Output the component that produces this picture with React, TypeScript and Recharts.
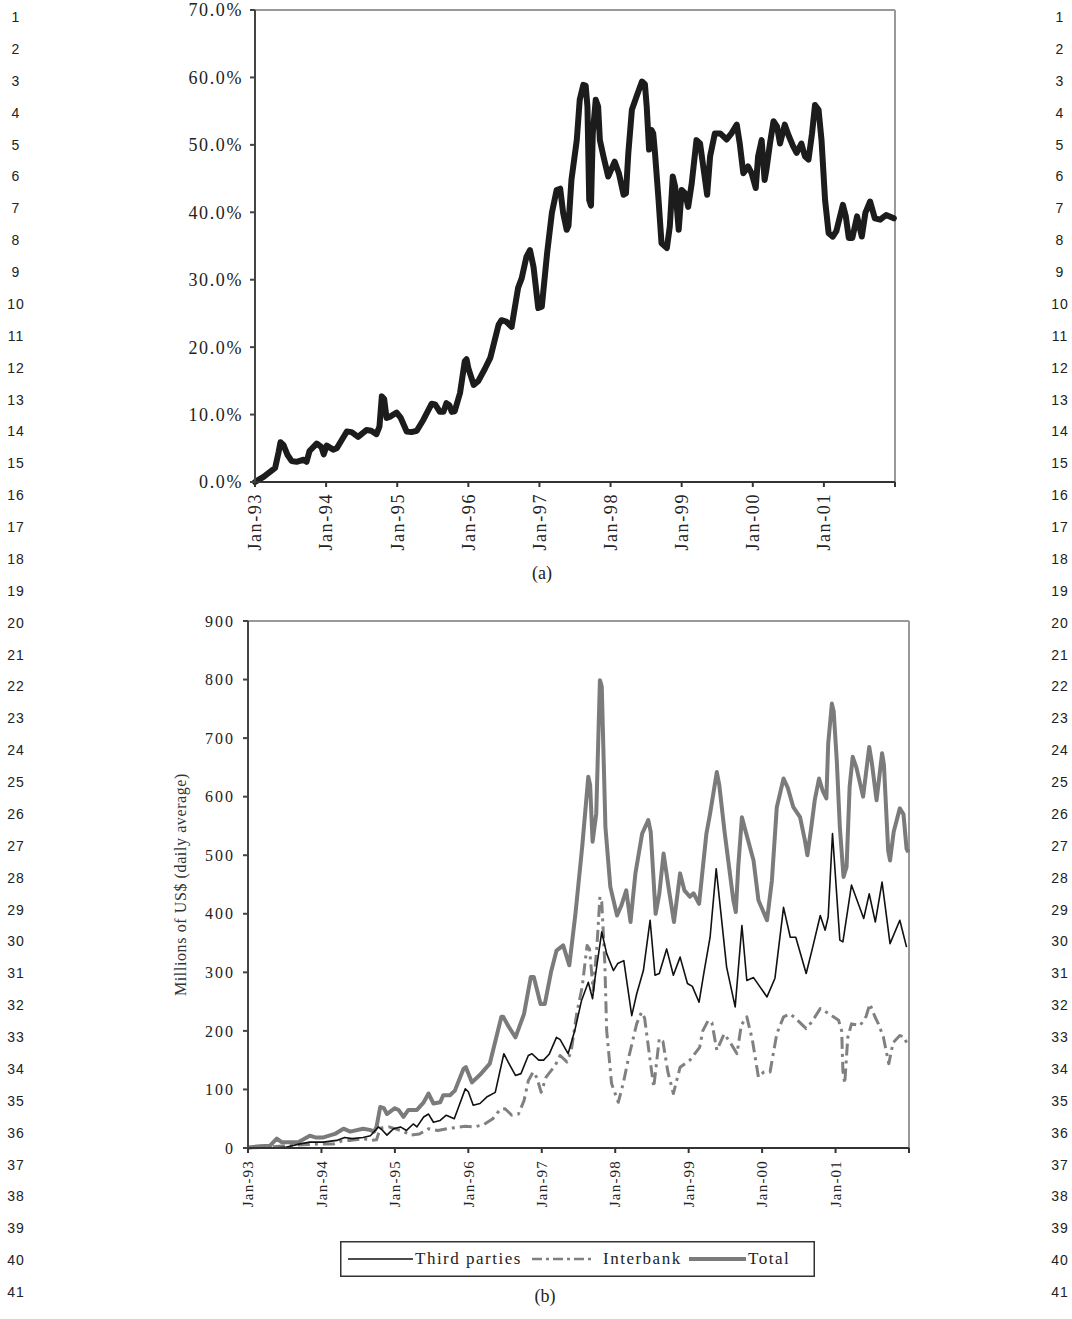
import React from "react";
import { LineChart, Line, XAxis, YAxis, ReferenceLine } from "recharts";

const SERIF = "'Liberation Serif', 'Times New Roman', serif";
const SANS = "'Liberation Sans', Arial, sans-serif";

// x values are months counted from Jan-93
const monthTicks = [0, 12, 24, 36, 48, 60, 72, 84, 96, 108];
const shareTicks = [0, 10, 20, 30, 40, 50, 60, 70];
const volumeTicks = [0, 100, 200, 300, 400, 500, 600, 700, 800, 900];

// (a) share, in percent
const shareMonths = [
  0, 1.5, 3.4, 4.0, 4.3, 4.8, 5.5, 6.2, 7.0, 8.2, 8.7, 9.2, 10.4, 11.2, 11.6, 12.1, 13.2, 13.8,
  15.5, 16.3, 17.4, 18.8, 19.6, 20.5, 21.0, 21.4, 21.8, 22.2, 22.8, 23.9, 24.6, 25.6, 26.4, 27.3,
  28.4, 29.8, 30.4, 31.2, 31.8, 32.3, 32.8, 33.2, 33.7, 34.6, 35.4, 35.7, 36.0, 36.9, 37.7, 38.8,
  39.7, 41.1, 41.6, 42.4, 43.3, 44.4, 45.0, 45.8, 46.4, 47.0, 47.8, 48.4, 49.3, 50.1, 50.9, 51.5,
  52.0, 52.6, 52.9, 53.4, 54.3, 54.8, 55.4, 55.8, 56.1, 56.4, 56.7, 57.0, 57.5, 57.9, 58.2, 58.8,
  59.6, 60.1, 60.7, 61.4, 62.2, 62.6, 63.0, 63.6, 64.4, 65.3, 65.8, 66.1, 66.5, 66.9, 67.2, 67.5,
  68.1, 68.6, 69.5, 70.0, 70.5, 70.9, 71.5, 72.0, 72.6, 73.1, 73.7, 74.5, 75.1, 75.8, 76.3, 76.8,
  77.6, 78.5, 79.6, 80.4, 81.3, 81.8, 82.4, 83.2, 83.8, 84.5, 84.9, 85.5, 86.0, 86.3, 86.9, 87.5,
  88.1, 88.6, 89.4, 90.0, 90.8, 91.4, 92.2, 92.8, 93.4, 94.0, 94.5, 95.1, 95.6, 96.2, 96.8, 97.5,
  98.1, 99.2, 99.7, 100.2, 100.8, 101.6, 102.4, 103.0, 103.8, 104.6, 105.5, 106.5, 107.8,
];
const sharePct = [
  0, 0.8, 2.1, 4.5, 5.9, 5.5, 4.0, 3.1, 3.0, 3.3, 3.0, 4.6, 5.7, 5.2, 4.1, 5.4, 4.8, 5.0,
  7.5, 7.4, 6.7, 7.7, 7.6, 7.1, 8.2, 12.7, 12.3, 9.5, 9.7, 10.3, 9.5, 7.5, 7.4, 7.6,
  9.2, 11.6, 11.5, 10.4, 10.4, 11.7, 11.4, 10.4, 10.5, 13.2, 17.9, 18.2, 16.9, 14.4, 15.0, 16.8,
  18.4, 23.3, 24.0, 23.8, 23.0, 28.8, 30.2, 33.4, 34.4, 31.9, 25.8, 26.0, 34.0, 39.9, 43.3, 43.5,
  39.9, 37.4, 38.0, 44.8, 50.7, 56.7, 58.9, 58.8, 55.7, 41.8, 41.0, 51.7, 56.7, 55.7, 50.7, 48.3,
  45.3, 46.3, 47.5, 45.8, 42.6, 42.8, 48.8, 55.2, 57.2, 59.4, 59.0, 55.7, 49.3, 52.2, 51.7, 48.8,
  41.8, 35.4, 34.7, 37.9, 45.3, 43.8, 37.4, 43.3, 42.8, 40.8, 44.3, 50.7, 50.2, 45.8, 42.6, 48.3,
  51.7, 51.7, 50.8, 51.7, 53.0, 50.2, 45.8, 46.8, 45.8, 43.6, 48.3, 50.7, 44.8, 46.3, 50.2, 53.5,
  52.7, 50.2, 53.0, 51.5, 49.8, 48.8, 50.2, 48.3, 47.8, 51.7, 55.9, 55.2, 50.7, 41.8, 36.9, 36.4,
  37.2, 41.1, 39.4, 36.2, 36.2, 39.4, 36.4, 39.9, 41.6, 39.1, 38.9, 39.6, 39.1,
];

// (b) millions of US$, daily average
const thirdMonths = [
  0, 4, 6, 8.5, 10.1, 12.3, 14.5, 15.8, 17.0, 18.8, 20.0, 21.3, 22.0, 22.7, 23.8, 24.9, 25.9, 27.0,
  27.6, 28.7, 29.5, 30.3, 31.4, 32.4, 33.7, 34.2, 35.5, 36.0, 36.8, 37.9, 39.0, 40.4, 41.8, 42.6,
  43.7, 44.6, 45.8, 46.4, 47.5, 48.3, 49.2, 50.4, 51.0, 52.3, 53.4, 54.5, 55.6, 56.3, 56.7, 57.8,
  58.6, 59.7, 60.4, 61.4, 62.7, 63.5, 64.6, 65.7, 66.5, 67.2, 68.4, 69.5, 70.6, 71.8, 72.6, 73.7,
  74.5, 75.5, 76.5, 78.2, 79.6, 80.7, 81.5, 82.6, 84.8, 86.1, 87.5, 88.6, 89.5, 91.2, 92.2, 93.5,
  94.3, 94.8, 95.5, 96.7, 97.2, 98.6, 100.6, 101.5, 102.5, 103.6, 104.9, 106.5, 107.6,
];
const thirdValues = [
  0, 0, 1, 7, 10, 10, 13, 18, 16, 18, 21, 36, 30, 22, 33, 36, 30, 41,
  36, 53, 58, 44, 47, 56, 50, 64, 101, 96, 73, 76, 87, 95, 161, 145,
  124, 127, 158, 161, 150, 150, 160, 189, 185, 161, 201, 252, 283, 255, 290, 369,
  332, 303, 315, 320, 226, 263, 303, 389, 295, 298, 340, 295, 326, 281, 276, 249,
  300, 360, 477, 309, 241, 380, 286, 291, 258, 290, 411, 360, 360, 298, 340, 397,
  372, 395, 537, 355, 352, 449, 392, 434, 386, 454, 349, 389, 343,
];

const interMonths = [
  0, 4, 7.4, 10, 11.8, 14.0, 15.3, 16.8, 18.8, 20.2, 21.0, 21.6, 23.0, 24.0, 25.5, 26.5, 28.0, 29.5,
  31.0, 32.5, 34.0, 35.5, 37.0, 38.5, 40.0, 41.2, 42.0, 43.1, 44.2, 45.1, 45.8, 46.6, 47.2, 47.9,
  48.7, 50.2, 51.0, 52.1, 52.8, 53.7, 54.6, 55.4, 55.8, 56.4, 57.0, 57.5, 57.8, 58.3, 58.6, 59.4,
  60.5, 61.3, 62.1, 63.5, 64.3, 64.8, 65.7, 66.3, 67.2, 67.8, 68.6, 69.5, 70.6, 72.2, 73.8, 74.3,
  75.2, 75.8, 76.6, 77.8, 78.8, 79.9, 80.6, 81.5, 82.4, 83.4, 84.3, 85.3, 86.4, 87.5, 88.6, 89.4,
  91.2, 92.1, 93.5, 94.8, 96.5, 97.0, 97.2, 97.5, 98.0, 98.6, 100.0, 101.0, 101.6, 102.4, 103.0,
  103.8, 104.7, 105.4, 106.5, 107.2, 107.9,
];
const interValues = [
  0, 2, 5, 6, 7, 7, 12, 13, 16, 13, 14, 34, 36, 33, 28, 22, 24, 33,
  30, 33, 35, 37, 36, 40, 50, 66, 67, 56, 58, 81, 115, 130, 120, 95,
  121, 141, 158, 147, 165, 229, 275, 346, 340, 269, 343, 429, 420, 315, 201, 110,
  78, 110, 150, 212, 232, 222, 150, 104, 187, 182, 130, 93, 138, 150, 172, 200,
  218, 214, 167, 195, 180, 161, 210, 224, 185, 121, 130, 130, 195, 224, 229, 222,
  204, 215, 238, 230, 218, 200, 132, 110, 189, 212, 209, 225, 246, 225, 212,
  190, 144, 180, 192, 190, 172,
];

const totalMonths = [
  0, 2, 3.6, 4.7, 5.5, 6.9, 8.2, 10.1, 11.0, 12.3, 14.2, 15.6, 16.7, 18.8, 19.9, 20.6, 21.0, 21.6,
  22.2, 22.7, 24.0, 24.6, 25.4, 26.2, 27.6, 28.7, 29.5, 30.3, 31.4, 31.9, 33.0, 33.8, 35.2, 35.6,
  36.6, 37.9, 39.5, 41.4, 41.7, 42.6, 43.7, 45.1, 46.2, 46.7, 47.8, 48.5, 49.5, 50.4, 51.5, 52.5,
  53.5, 54.6, 55.6, 55.9, 56.3, 56.9, 57.5, 57.8, 58.4, 59.2, 60.3, 61.0, 61.8, 62.5, 63.3, 64.4,
  65.4, 65.8, 66.6, 67.2, 67.9, 68.7, 69.6, 70.6, 71.3, 72.2, 72.8, 73.7, 74.9, 75.5, 76.6, 77.0,
  77.9, 79.3, 79.7, 80.1, 80.7, 81.2, 82.6, 83.4, 84.8, 85.6, 86.4, 87.5, 88.2, 89.1, 90.2, 91.0,
  91.4, 92.0, 92.6, 93.3, 93.9, 94.5, 94.8, 95.4, 95.7, 96.2, 96.7, 97.3, 97.8, 98.3, 98.8, 99.4,
  100.5, 101.5, 101.9, 102.7, 103.6, 103.9, 104.6, 104.9, 105.5, 106.5, 107.1, 107.6, 107.9,
];
const totalValues = [
  1, 3, 4, 16, 10, 10, 10, 21, 18, 18, 24, 33, 28, 33, 31, 28, 36, 70,
  68, 58, 68, 65, 53, 65, 65, 78, 93, 76, 78, 90, 90, 98, 135, 138,
  112, 125, 144, 224, 224, 207, 189, 229, 292, 292, 246, 246, 300, 337, 346, 312,
  400, 514, 634, 620, 523, 571, 799, 788, 548, 446, 397, 414, 440, 386, 469, 537,
  560, 540, 400, 434, 503, 446, 386, 469, 440, 429, 435, 417, 537, 571, 642, 620,
  537, 423, 403, 480, 565, 545, 491, 423, 389, 457, 582, 631, 615, 582, 565, 525,
  500, 545, 594, 631, 610, 597, 691, 759, 745, 662, 548, 463, 480, 617, 668, 650,
  600, 685, 660, 594, 674, 655, 508, 491, 540, 580, 570, 511, 505,
];

const toPoints = (months: number[], values: number[]) =>
  months.map((m, i) => ({ m, v: values[i] }));

const shareData = toPoints(shareMonths, sharePct);
const thirdData = toPoints(thirdMonths, thirdValues);
const interData = toPoints(interMonths, interValues);
const totalData = toPoints(totalMonths, totalValues);

const yearLabel = (m: number) =>
  m >= 108 ? "" : `Jan-${String((93 + m / 12) % 100).padStart(2, "0")}`;

type TickProps = { x?: number; y?: number; payload?: { value: number } };

function makeDateTick(fontSize: number, gap: number, spacing: number) {
  return ({ x = 0, y = 0, payload }: TickProps) => (
    <g transform={`translate(${x},${y})`}>
      <text
        transform="rotate(-90)"
        x={-gap}
        y={0}
        dy="0.35em"
        textAnchor="end"
        fontSize={fontSize}
        letterSpacing={spacing}
        fill="#222"
        fontFamily={SERIF}
      >
        {yearLabel(payload?.value ?? 0)}
      </text>
    </g>
  );
}

const lineNumbers = Array.from({ length: 41 }, (_, i) => i + 1);

function LineNumbers({ left }: { left: number }) {
  return (
    <>
      {lineNumbers.map((n) => (
        <div
          key={n}
          style={{
            position: "absolute",
            left: left - 20,
            width: 40,
            top: 17 + (n - 1) * 31.875 - 9,
            height: 18,
            lineHeight: "18px",
            textAlign: "center",
            fontFamily: SANS,
            fontSize: 14,
            letterSpacing: 1,
            color: "#222",
          }}
        >
          {n}
        </div>
      ))}
    </>
  );
}

function Caption({ text, x, y }: { text: string; x: number; y: number }) {
  return (
    <div
      style={{
        position: "absolute",
        left: x - 30,
        width: 60,
        top: y - 11,
        lineHeight: "22px",
        textAlign: "center",
        fontFamily: SERIF,
        fontSize: 18,
        color: "#222",
      }}
    >
      {text}
    </div>
  );
}

function ShareChart() {
  return (
    <LineChart width={760} height={560} margin={{ top: 10, right: 15, left: 0, bottom: 0 }}>
      <XAxis
        dataKey="m"
        type="number"
        domain={[0, 108]}
        ticks={monthTicks}
        interval={0}
        height={78}
        tickSize={5}
        tickMargin={2}
        stroke="#333"
        strokeWidth={2}
        tick={makeDateTick(18, 4, 1.6)}
      />
      <YAxis
        type="number"
        domain={[0, 70]}
        ticks={shareTicks}
        interval={0}
        width={105}
        tickSize={5}
        tickMargin={7}
        stroke="#444"
        strokeWidth={2}
        tickFormatter={(v: number) => `${v.toFixed(1)}%`}
        tick={{ fontSize: 18, fill: "#222", fontFamily: SERIF, letterSpacing: 1.6 }}
      />
      <ReferenceLine y={70} stroke="#999" strokeWidth={2} />
      <ReferenceLine x={108} stroke="#999" strokeWidth={2} />
      <Line
        data={shareData}
        dataKey="v"
        type="linear"
        stroke="#1c1c1c"
        strokeWidth={6}
        strokeLinejoin="round"
        strokeLinecap="round"
        dot={false}
        activeDot={false}
        isAnimationActive={false}
      />
    </LineChart>
  );
}

function VolumeChart() {
  return (
    <LineChart width={780} height={620} margin={{ top: 21, right: 21, left: 0, bottom: 0 }}>
      <XAxis
        dataKey="m"
        type="number"
        domain={[0, 108]}
        ticks={monthTicks}
        interval={0}
        height={72}
        tickSize={5}
        tickMargin={2}
        stroke="#333"
        strokeWidth={2}
        tick={makeDateTick(15, 5, 1.2)}
      />
      <YAxis
        type="number"
        domain={[0, 900]}
        ticks={volumeTicks}
        interval={0}
        width={98}
        tickSize={5}
        tickMargin={8}
        stroke="#444"
        strokeWidth={2}
        tick={{ fontSize: 16, fill: "#222", fontFamily: SERIF, letterSpacing: 2 }}
        label={{
          value: "Millions of US$ (daily average)",
          angle: -90,
          position: "center",
          dx: -19,
          fontSize: 16,
          fill: "#333",
          fontFamily: SERIF,
          letterSpacing: 0.6,
        }}
      />
      <ReferenceLine y={900} stroke="#999" strokeWidth={2} />
      <ReferenceLine x={108} stroke="#999" strokeWidth={2} />
      <Line
        data={totalData}
        dataKey="v"
        name="Total"
        type="linear"
        stroke="#7b7b7b"
        strokeWidth={4}
        strokeLinejoin="round"
        dot={false}
        activeDot={false}
        isAnimationActive={false}
      />
      <Line
        data={interData}
        dataKey="v"
        name="Interbank"
        type="linear"
        stroke="#808080"
        strokeWidth={3}
        strokeDasharray="12 5 3 5"
        strokeLinejoin="round"
        dot={false}
        activeDot={false}
        isAnimationActive={false}
      />
      <Line
        data={thirdData}
        dataKey="v"
        name="Third parties"
        type="linear"
        stroke="#111"
        strokeWidth={1.6}
        strokeLinejoin="round"
        dot={false}
        activeDot={false}
        isAnimationActive={false}
      />
    </LineChart>
  );
}

const legendItems = [
  { label: "Third parties", x1: 8, x2: 73, text: 75, stroke: "#111", width: 1.6, dash: undefined },
  { label: "Interbank", x1: 192, x2: 253, text: 263, stroke: "#808080", width: 2.5, dash: "10 4 3 4" },
  { label: "Total", x1: 349, x2: 406, text: 408, stroke: "#7b7b7b", width: 4, dash: undefined },
];

function VolumeLegend() {
  return (
    <svg
      width={475}
      height={36}
      style={{ position: "absolute", left: 340, top: 1241, overflow: "visible" }}
    >
      <rect x={0.75} y={0.75} width={473.5} height={34.5} fill="#fff" stroke="#333" strokeWidth={1.5} />
      {legendItems.map((it) => (
        <g key={it.label}>
          <line
            x1={it.x1}
            x2={it.x2}
            y1={18}
            y2={18}
            stroke={it.stroke}
            strokeWidth={it.width}
            strokeDasharray={it.dash}
          />
          <text x={it.text} y={23} fontSize={17} letterSpacing={1.5} fontFamily={SERIF} fill="#222">
            {it.label}
          </text>
        </g>
      ))}
    </svg>
  );
}

export default function App() {
  return (
    <div
      style={{
        position: "absolute",
        left: 0,
        top: 0,
        width: 1072,
        height: 1319,
        overflow: "hidden",
        background: "#fff",
      }}
    >
      <LineNumbers left={16} />
      <LineNumbers left={1060} />
      <div style={{ position: "absolute", left: 150, top: 0 }}>
        <ShareChart />
      </div>
      <Caption text="(a)" x={542} y={573} />
      <div style={{ position: "absolute", left: 150, top: 600 }}>
        <VolumeChart />
      </div>
      <VolumeLegend />
      <Caption text="(b)" x={545} y={1296} />
    </div>
  );
}
